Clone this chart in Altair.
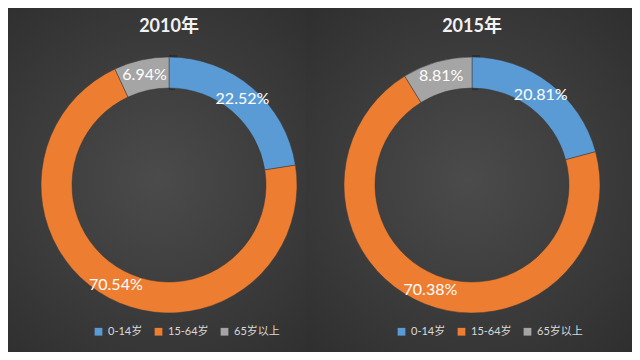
import altair as alt
import pandas as pd

years = ["2010年", "2015年"]
categories = ["0-14岁", "15-64岁", "65岁以上"]
values_2010 = [22.52, 70.54, 6.94]
values_2015 = [20.81, 70.38, 8.81]
colors = ["#5B9BD5", "#ED7D31", "#A5A5A5"]

rows = []
for y, vals in zip(years, [values_2010, values_2015]):
    for i, (c, v) in enumerate(zip(categories, vals)):
        rows.append({"year": y, "cat": c, "idx": i, "value": v, "label": f"{v:.2f}%"})
df = pd.DataFrame(rows)

FONT = "Lato, Noto Sans CJK SC"
H = 344

bg_gradient = alt.RadialGradient(
    gradient="radial", x1=0.5, y1=0.5, x2=0.5, y2=0.5, r1=0, r2=0.8,
    stops=[alt.GradientStop(offset=0, color="#4b4b4b"),
           alt.GradientStop(offset=1, color="#2a2a2a")],
)


def panel(year, width, cx, cy, legend_x):
    base = alt.Chart(df).transform_filter(alt.datum.year == year)
    bg = alt.Chart(pd.DataFrame({"year": [year]})).mark_rect(fill=bg_gradient).encode(
        x=alt.value(0), x2=alt.value(width), y=alt.value(0), y2=alt.value(H)
    )
    title = alt.Chart(pd.DataFrame({"year": [year]})).mark_text(
        font=FONT, fontSize=18, fontWeight="bold", color="#f2f2f2"
    ).encode(text="year:N", x=alt.value(cx), y=alt.value(19))
    shadow = alt.Chart(pd.DataFrame({"year": [year], "v": [1]})).mark_arc(
        innerRadius=95, outerRadius=130, color="#1f1f1f", opacity=0.5
    ).encode(theta=alt.Theta("v:Q"), x=alt.value(cx), y=alt.value(cy))
    arc = base.mark_arc(innerRadius=97, outerRadius=128, stroke="#3a3a3a", strokeWidth=0.5).encode(
        theta=alt.Theta("value:Q", stack=True),
        order=alt.Order("idx:Q"),
        color=alt.Color(
            "cat:N",
            scale=alt.Scale(domain=categories, range=colors),
            legend=alt.Legend(
                title=None, orient="none", direction="horizontal",
                legendX=legend_x, legendY=318, symbolType="square", symbolSize=60,
                symbolStrokeWidth=0, labelColor="#d9d9d9", labelFont=FONT,
                labelFontSize=11, columnPadding=10, symbolOffset=0,
            ),
        ),
        x=alt.value(cx), y=alt.value(cy),
    )
    text = base.mark_text(radius=113, font=FONT, fontSize=16, color="#ffffff").encode(
        theta=alt.Theta("value:Q", stack=True),
        order=alt.Order("idx:Q"),
        text="label:N",
        x=alt.value(cx), y=alt.value(cy),
    )
    return alt.layer(bg, title, shadow, arc, text).properties(width=width, height=H)


left = panel("2010年", 298, 161, 177, 85)
right = panel("2015年", 326, 166, 177, 90)

chart = alt.hconcat(left, right, spacing=0).resolve_scale(color="independent").resolve_legend(
    color="independent"
).configure(background="#333333", padding=0).configure_view(stroke=None)

chart.save("out.html", embed_options={"renderer": "svg", "actions": False})
